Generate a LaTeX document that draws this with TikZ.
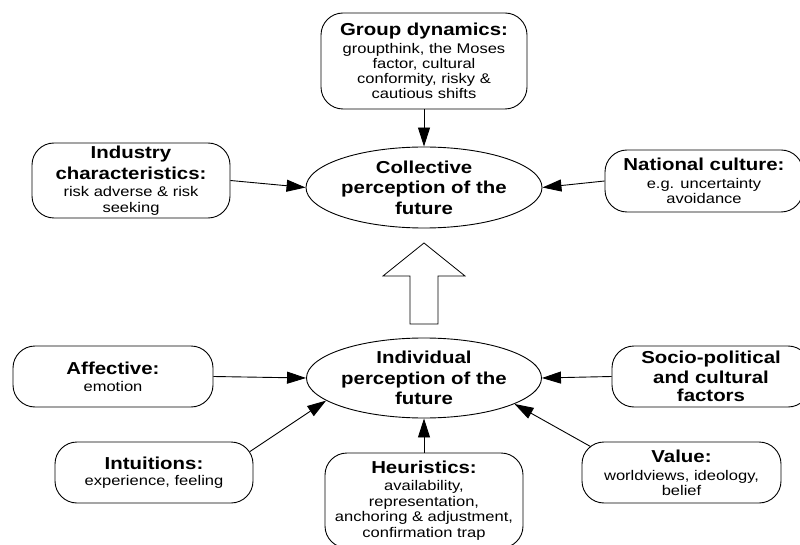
\documentclass[tikz,border=0pt]{standalone}
\usepackage{fontspec}
\setmainfont{Liberation Sans}
\usepackage{graphicx}
\usetikzlibrary{arrows.meta,calc,shapes.geometric}
\newcommand\sx[1]{\scalebox{1.18}[1]{#1}}
\newcommand\hd[1]{{\bfseries\fontsize{17.3}{15}\selectfont\sx{#1}}}
\newcommand\nodefont{\fontsize{14}{15}\selectfont\lineskiplimit=-50pt\relax}
\begin{document}
\begin{tikzpicture}[x=1pt,y=-1pt,
  box/.style={draw, line width=0.9pt, rounded corners=22pt, align=center,
    inner sep=0pt, font=\nodefont},
  ell/.style={draw, ellipse, line width=0.9pt, align=center, inner sep=-6pt,
    font=\nodefont},
  arr/.style={line width=0.9pt, -{Triangle[length=19pt,width=12pt]}}]
\useasboundingbox[fill=white] (0,0) rectangle (800,545);

% top ellipse
\node[ell, minimum width=236pt, minimum height=81pt] (coll) at (424,187.5)
  {\hd{Collective}\\[5.5pt]\hd{perception of the}\\[5.5pt]\hd{future}};
% bottom ellipse
\node[ell, minimum width=235pt, minimum height=80pt] (indiv) at (424,378)
  {\hd{Individual}\\[5.5pt]\hd{perception of the}\\[5.5pt]\hd{future}};

% boxes
\node[box, minimum width=206pt, minimum height=96pt] (gd) at (424,61)
  {\hd{Group dynamics:}\\[3pt]\sx{groupthink, the Moses}\\\sx{factor, cultural}\\\sx{conformity, risky \&}\\\sx{cautious shifts}};
\node[box, minimum width=198pt, minimum height=75pt] (ind) at (131,180.5)
  {\hd{Industry}\\[5.5pt]\hd{characteristics:}\\[2pt]\sx{risk adverse \& risk}\\[1pt]\sx{seeking}};
\node[box, minimum width=198pt, minimum height=62pt] (nat) at (704,181)
  {\hd{National culture:}\\[3pt]\sx{e.g. uncertainty}\\[0.5pt]\sx{avoidance}};
\node[box, minimum width=200pt, minimum height=61pt] (aff) at (113,376.5)
  {\hd{Affective:}\\[2pt]\sx{emotion}};
\node[box, minimum width=198pt, minimum height=61pt] (soc) at (711,376.5)
  {\hd{Socio-political}\\[4.5pt]\hd{and cultural}\\[3.5pt]\hd{factors}};
\node[box, minimum width=198pt, minimum height=61pt] (intu) at (154,472.5)
  {\hd{Intuitions:}\\[1.5pt]\sx{experience, feeling}};
\node[box, minimum width=199pt, minimum height=61pt] (val) at (681.5,472.5)
  {\hd{Value:}\\[3pt]\sx{worldviews, ideology,}\\\sx{belief}};
\node[box, minimum width=198pt, minimum height=95pt] (heur) at (424,500.5)
  {\hd{Heuristics:}\\[2pt]\sx{availability,}\\[0.5pt]\sx{representation,}\\[0.5pt]\sx{anchoring \& adjustment,}\\[0.5pt]\sx{confirmation trap}};

% big hollow arrow
\draw[line width=0.8pt, line join=miter]
  (424,243) -- (465,276) -- (438,276) -- (438,324) -- (410,324) -- (410,276) -- (383,276) -- cycle;

% connectors
\draw[arr] (gd.south) -- (coll.north);
\draw[arr] (ind.east) -- (coll.west);
\draw[arr] (nat.west) -- (coll.east);
\draw[arr] (aff.east) -- (indiv.west);
\draw[arr] (soc.west) -- (indiv.east);
\draw[arr] (heur.north) -- (indiv.south);
\draw[arr] ($(intu.north east)+(-3.5,10)$) -- (indiv.193);
\draw[arr] ($(val.north west)+(9,5)$) -- (indiv.344);
\end{tikzpicture}
\end{document}
